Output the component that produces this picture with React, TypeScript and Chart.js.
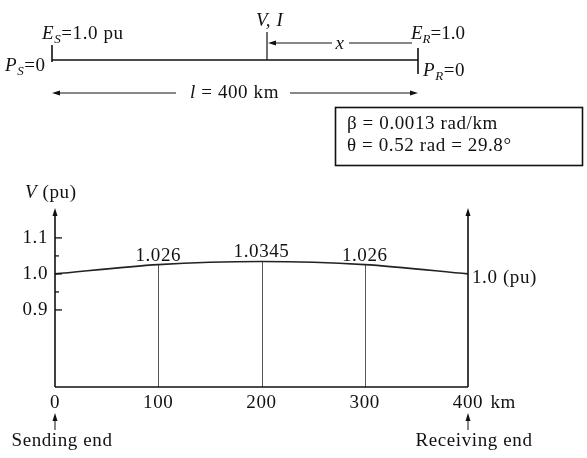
import { useEffect, useRef } from "react";
import { Chart, registerables } from "chart.js";
Chart.register(...registerables);

const distanceKm = [0, 100, 200, 300, 400];
const voltagePu = [1.0, 1.026, 1.0345, 1.026, 1.0];
const valueLabels = ["", "1.026", "1.0345", "1.026", ""];
const dropLinesKm = [100, 200, 300];
const yMajorTicks = [0.9, 1.0, 1.1];
const yMajorLabels = ["0.9", "1.0", "1.1"];
const yMinorTicks = [0.95, 1.05];
const xTickValues = [0, 100, 200, 300, 400];
const xTickLabels = ["0", "100", "200", "300", "400"];

const FONT = '"Liberation Serif", "DejaVu Serif", serif';
const INK = "#111";
const FS = 19;

type Part = { t: string; i?: boolean; sub?: boolean };

function setSpacing(ctx: CanvasRenderingContext2D, s: string) {
  (ctx as any).letterSpacing = s;
}

function rich(ctx: CanvasRenderingContext2D, x: number, y: number, parts: Part[], size = FS, align: "left" | "center" = "left") {
  const fontFor = (p: Part) => `${p.i ? "italic " : ""}${p.sub ? Math.round(size * 0.7) : size}px ${FONT}`;
  let total = 0;
  for (const p of parts) {
    ctx.font = fontFor(p);
    total += ctx.measureText(p.t).width;
  }
  let cx = align === "center" ? x - total / 2 : x;
  ctx.textAlign = "left";
  ctx.textBaseline = "middle";
  for (const p of parts) {
    ctx.font = fontFor(p);
    ctx.fillText(p.t, cx, p.sub ? y + size * 0.3 : y);
    cx += ctx.measureText(p.t).width;
  }
  return total;
}

function arrowHead(ctx: CanvasRenderingContext2D, x: number, y: number, dir: "up" | "left" | "right") {
  const L = 8, W = 2.5;
  ctx.beginPath();
  if (dir === "up") {
    ctx.moveTo(x, y);
    ctx.lineTo(x - W, y + L);
    ctx.lineTo(x + W, y + L);
  } else if (dir === "left") {
    ctx.moveTo(x, y);
    ctx.lineTo(x + L, y - W);
    ctx.lineTo(x + L, y + W);
  } else {
    ctx.moveTo(x, y);
    ctx.lineTo(x - L, y - W);
    ctx.lineTo(x - L, y + W);
  }
  ctx.closePath();
  ctx.fill();
}

function line(ctx: CanvasRenderingContext2D, x1: number, y1: number, x2: number, y2: number, w = 1.5, color = INK) {
  ctx.strokeStyle = color;
  ctx.lineWidth = w;
  ctx.beginPath();
  ctx.moveTo(x1, y1);
  ctx.lineTo(x2, y2);
  ctx.stroke();
}

const decorPlugin = {
  id: "decor",
  beforeDatasetsDraw(chart: any) {
    const ctx: CanvasRenderingContext2D = chart.ctx;
    const xs = chart.scales.x;
    const ys = chart.scales.y;
    const { bottom } = chart.chartArea;
    ctx.save();
    for (const d of dropLinesKm) {
      const idx = distanceKm.indexOf(d);
      const px = Math.round(xs.getPixelForValue(d)) + 0.5;
      const py = ys.getPixelForValue(voltagePu[idx]);
      line(ctx, px, py, px, bottom, 1, "#555");
    }
    ctx.restore();
  },
  afterDraw(chart: any) {
    const ctx: CanvasRenderingContext2D = chart.ctx;
    const xs = chart.scales.x;
    const ys = chart.scales.y;
    const { left, right, top, bottom } = chart.chartArea;
    ctx.save();
    ctx.fillStyle = INK;
    setSpacing(ctx, "0.6px");

    // axes
    line(ctx, left, bottom, right, bottom, 1.6);
    line(ctx, left, bottom, left, top + 4, 1.6);
    line(ctx, right, bottom, right, top + 4, 1.6);
    arrowHead(ctx, left, top, "up");
    arrowHead(ctx, right, top, "up");

    // y ticks
    yMajorTicks.forEach((v, k) => {
      const py = ys.getPixelForValue(v);
      line(ctx, left, py, left + 7, py, 1.3);
      ctx.font = `${FS}px ${FONT}`;
      ctx.textAlign = "right";
      ctx.textBaseline = "middle";
      ctx.fillText(yMajorLabels[k], left - 7, py);
    });
    yMinorTicks.forEach((v) => {
      const py = ys.getPixelForValue(v);
      line(ctx, left, py, left + 4, py, 1.3);
    });

    // value labels
    distanceKm.forEach((d, k) => {
      if (!valueLabels[k]) return;
      const px = xs.getPixelForValue(d);
      const py = ys.getPixelForValue(voltagePu[k]);
      ctx.font = `${FS}px ${FONT}`;
      ctx.textAlign = "center";
      ctx.textBaseline = "alphabetic";
      ctx.fillText(valueLabels[k], px, py - 4);
    });
    // receiving end value
    {
      const k = distanceKm.length - 1;
      const py = ys.getPixelForValue(voltagePu[k]);
      rich(ctx, right + 4, py + 4, [{ t: voltagePu[k].toFixed(1) + " (pu)" }]);
    }

    // x tick labels
    xTickValues.forEach((v, k) => {
      const px = xs.getPixelForValue(v);
      ctx.font = `${FS}px ${FONT}`;
      ctx.textAlign = "center";
      ctx.textBaseline = "middle";
      ctx.fillText(xTickLabels[k], px, bottom + 16);
      if (k === xTickValues.length - 1) {
        const w = ctx.measureText(xTickLabels[k]).width;
        ctx.textAlign = "left";
        ctx.fillText(" km", px + w / 2 + 2, bottom + 16);
      }
    });

    // axis title
    rich(ctx, 25, 193, [{ t: "V", i: true }, { t: " (pu)" }]);

    // end markers
    line(ctx, left, 430, left, 418, 1);
    arrowHead(ctx, left, 413, "up");
    line(ctx, right, 430, right, 418, 1);
    arrowHead(ctx, right, 413, "up");
    rich(ctx, 62, 441, [{ t: "Sending end" }], FS, "center");
    rich(ctx, 474, 441, [{ t: "Receiving end" }], FS, "center");

    // ---- top line diagram ----
    line(ctx, 52, 60, 418, 60, 1.6);
    line(ctx, 52, 45, 52, 62, 1.6);
    line(ctx, 418, 48, 418, 74, 1.6);
    line(ctx, 267, 32, 267, 60, 1.2);
    rich(ctx, 42, 34, [{ t: "E", i: true }, { t: "S", i: true, sub: true }, { t: "=1.0 pu" }]);
    rich(ctx, 256, 21, [{ t: "V, I", i: true }]);
    setSpacing(ctx, "0px");
    rich(ctx, 411, 34, [{ t: "E", i: true }, { t: "R", i: true, sub: true }, { t: "=1.0" }]);
    setSpacing(ctx, "0.6px");
    rich(ctx, 5, 66, [{ t: "P", i: true }, { t: "S", i: true, sub: true }, { t: "=0" }]);
    rich(ctx, 423, 71, [{ t: "P", i: true }, { t: "R", i: true, sub: true }, { t: "=0" }]);

    // x arrow
    arrowHead(ctx, 268, 43, "left");
    line(ctx, 272, 43, 332, 43, 1);
    line(ctx, 349, 43, 412, 43, 1);
    rich(ctx, 340, 44, [{ t: "x", i: true }], FS, "center");

    // l arrow
    arrowHead(ctx, 52, 93, "left");
    line(ctx, 56, 93, 176, 93, 1);
    rich(ctx, 190, 93, [{ t: "l", i: true }, { t: " = 400 km" }]);
    line(ctx, 290, 93, 414, 93, 1);
    arrowHead(ctx, 418, 93, "right");

    // parameter box
    ctx.strokeStyle = INK;
    ctx.lineWidth = 1.6;
    ctx.strokeRect(335.5, 107.5, 247, 58);
    rich(ctx, 347, 124, [{ t: "\u03B2 = 0.0013 rad/km" }]);
    rich(ctx, 347, 146, [{ t: "\u03B8 = 0.52 rad = 29.8\u00B0" }]);

    ctx.restore();
  },
};

export default function App() {
  const ref = useRef<HTMLCanvasElement>(null);
  useEffect(() => {
    document.body.style.margin = "0";
    const canvas = ref.current!;
    const chart = new Chart(canvas, {
      type: "line",
      data: {
        datasets: [
          {
            data: distanceKm.map((d, k) => ({ x: d, y: voltagePu[k] })),
            borderColor: "#222",
            borderWidth: 1.7,
            pointRadius: 0,
            tension: 0.3,
            fill: false,
          },
        ],
      },
      options: {
        animation: false,
        responsive: false,
        devicePixelRatio: 1,
        layout: { padding: { left: 55, right: 119, top: 208, bottom: 71 } },
        plugins: { legend: { display: false }, tooltip: { enabled: false } },
        scales: {
          x: { type: "linear", min: 0, max: 400, display: false },
          y: { type: "linear", min: 0.686, max: 1.183, display: false },
        },
      },
      plugins: [decorPlugin],
    });
    return () => chart.destroy();
  }, []);
  return (
    <div style={{ width: 587, height: 458, background: "#fff" }}>
      <canvas ref={ref} width={587} height={458} style={{ display: "block" }} />
    </div>
  );
}
